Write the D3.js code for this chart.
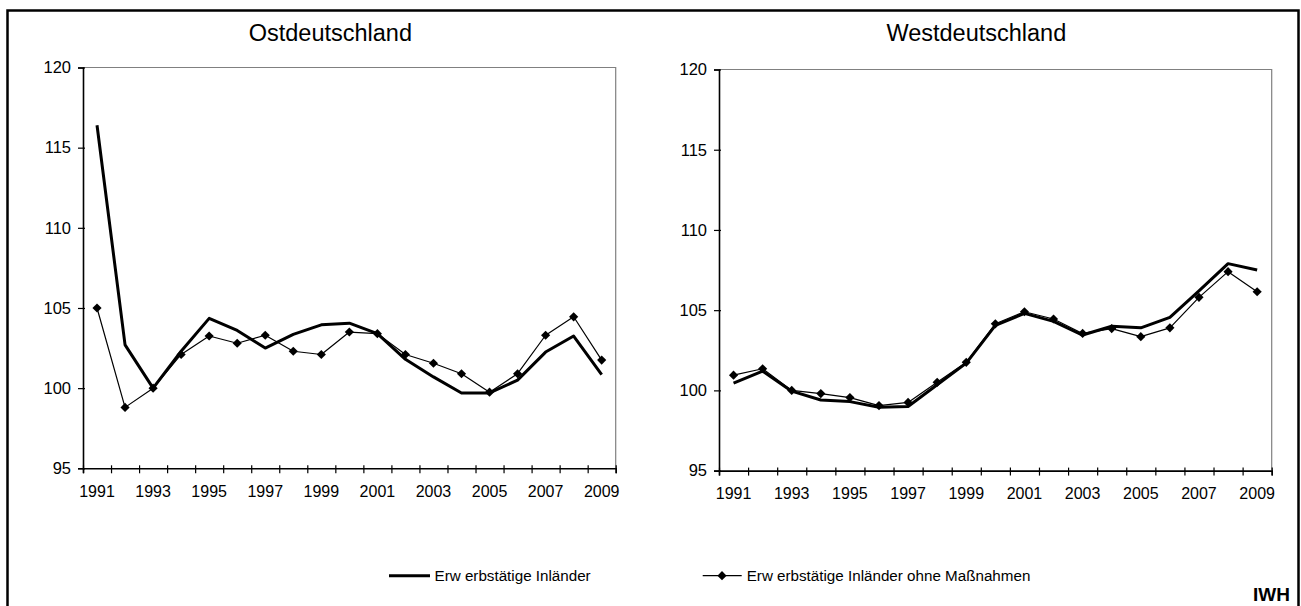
<!DOCTYPE html>
<html>
<head>
<meta charset="utf-8">
<script src="https://cdn.jsdelivr.net/npm/d3@7"></script>
<style>
  html, body { margin: 0; padding: 0; background: #fff; }
  svg { display: block; font-family: "Liberation Sans", Arial, sans-serif; }
</style>
</head>
<body>
<svg id="chart" width="1301" height="606"></svg>
<script>
// ---- data ----
const years = [1991,1992,1993,1994,1995,1996,1997,1998,1999,2000,2001,2002,2003,2004,2005,2006,2007,2008,2009];
const xTickLabels = [1991,1993,1995,1997,1999,2001,2003,2005,2007,2009];
const yTicks = [95,100,105,110,115,120];
const panelTitles = ["Ostdeutschland", "Westdeutschland"];
const seriesNames = ["Erw erbstätige Inländer", "Erw erbstätige Inländer ohne Maßnahmen"];

const ostErwerbstaetige = [116.4, 102.7, 100.0, 102.3, 104.35, 103.6, 102.5, 103.35, 103.95, 104.05, 103.4, 101.8, 100.7, 99.7, 99.7, 100.5, 102.25, 103.25, 100.85];
const ostOhneMassnahmen = [105.0, 98.8, 100.0, 102.1, 103.25, 102.8, 103.3, 102.3, 102.1, 103.5, 103.4, 102.1, 101.55, 100.9, 99.75, 100.9, 103.3, 104.45, 101.75];
const westErwerbstaetige = [100.45, 101.2, 99.95, 99.4, 99.3, 98.95, 99.0, 100.35, 101.7, 104.05, 104.8, 104.3, 103.45, 104.0, 103.9, 104.55, 106.2, 107.9, 107.5];
const westOhneMassnahmen = [100.95, 101.35, 100.0, 99.8, 99.55, 99.05, 99.25, 100.5, 101.75, 104.15, 104.9, 104.45, 103.55, 103.85, 103.35, 103.9, 105.8, 107.4, 106.15];

const panels = [
  { title: panelTitles[0], thick: ostErwerbstaetige, thin: ostOhneMassnahmen, left: 83, right: 615.7, top: 67.5, bottom: 468.3 },
  { title: panelTitles[1], thick: westErwerbstaetige, thin: westOhneMassnahmen, left: 719, right: 1271.7, top: 69.5, bottom: 470.6 }
];

const svg = d3.select("#chart");
const FONT = "Liberation Sans, Arial, sans-serif";

// outer frame
svg.append("rect").attr("x", 7.5).attr("y", 10.5).attr("width", 1291).attr("height", 600)
  .attr("fill", "none").attr("stroke", "#000").attr("stroke-width", 2.5);

// square diamond marker (square rotated 45°)
const diamondPath = d3.symbol().type(d3.symbolSquare).size(42)();

panels.forEach(p => {
  const g = svg.append("g");
  const x = d3.scaleBand().domain(years).range([p.left, p.right]);
  const xi = d3.scaleLinear().domain([0, years.length]).range([p.left, p.right]);
  const y = d3.scaleLinear().domain([95, 120]).range([p.bottom, p.top]);

  // title
  g.append("text").attr("x", (p.left + p.right) / 2 - 19).attr("y", 41)
    .attr("text-anchor", "middle").attr("font-size", 23.5).attr("fill", "#000").text(p.title);

  // plot border (gray top & right)
  g.append("path")
    .attr("d", `M${p.left},${y(120)}H${p.right}V${y(95)}`)
    .attr("fill", "none").attr("stroke", "#808080").attr("stroke-width", 1.2);

  // y axis
  const yAxis = d3.axisLeft(y).tickValues(yTicks).tickSize(5).tickPadding(7).tickFormat(d3.format("d"));
  const ya = g.append("g").attr("transform", `translate(${p.left},0)`).call(yAxis);
  ya.select(".domain").attr("stroke", "#000").attr("stroke-width", 1.6);
  ya.selectAll(".tick line").attr("stroke", "#000").attr("stroke-width", 1.2).attr("x2", -5).attr("x1", 2);
  ya.selectAll(".tick text").attr("font-size", 16.5).attr("font-family", FONT).attr("fill", "#000");

  // x axis: ticks at category boundaries
  const xa = g.append("g").attr("transform", `translate(0,${p.bottom})`)
    .call(d3.axisBottom(xi).tickValues(d3.range(years.length + 1)).tickSize(5).tickFormat(""));
  xa.select(".domain").attr("stroke", "#000").attr("stroke-width", 1.6);
  xa.selectAll(".tick line").attr("stroke", "#000").attr("stroke-width", 1.2).attr("y1", -3);

  // x labels at category centres
  const xl = g.append("g").attr("transform", `translate(0,${p.bottom})`)
    .call(d3.axisBottom(x).tickValues(xTickLabels).tickSize(0).tickPadding(17));
  xl.select(".domain").remove();
  xl.selectAll(".tick text").attr("font-size", 16).attr("font-family", FONT).attr("fill", "#000");

  const cx = d => x(d) + x.bandwidth() / 2;
  const line = d3.line().x((d, i) => cx(years[i])).y(d => y(d));

  g.append("path").datum(p.thick).attr("d", line)
    .attr("fill", "none").attr("stroke", "#000").attr("stroke-width", 3).attr("stroke-linejoin", "round");
  g.append("path").datum(p.thin).attr("d", line)
    .attr("fill", "none").attr("stroke", "#000").attr("stroke-width", 1.2).attr("stroke-linejoin", "round");
  g.selectAll("path.mk").data(p.thin).enter().append("path").attr("class", "mk")
    .attr("transform", (d, i) => `translate(${cx(years[i])},${y(d)}) rotate(45)`)
    .attr("d", diamondPath).attr("fill", "#000");
});

// legend
const lg = svg.append("g");
lg.append("line").attr("x1", 389).attr("x2", 430).attr("y1", 575.7).attr("y2", 575.7)
  .attr("stroke", "#000").attr("stroke-width", 3);
lg.append("text").attr("x", 434.5).attr("y", 580.7).attr("font-size", 15.2).attr("font-family", FONT).attr("fill", "#000").text(seriesNames[0]);
lg.append("line").attr("x1", 702.7).attr("x2", 741.7).attr("y1", 575.7).attr("y2", 575.7)
  .attr("stroke", "#000").attr("stroke-width", 1.2);
lg.append("path").attr("transform", "translate(722,575.7) rotate(45)")
  .attr("d", diamondPath).attr("fill", "#000");
lg.append("text").attr("x", 746.7).attr("y", 580.7).attr("font-size", 15.2).attr("font-family", FONT).attr("fill", "#000").text(seriesNames[1]);

svg.append("text").attr("x", 1290).attr("y", 601).attr("text-anchor", "end")
  .attr("font-size", 19).attr("font-weight", "bold").attr("font-family", FONT).attr("fill", "#000").text("IWH");
</script>
</body>
</html>
